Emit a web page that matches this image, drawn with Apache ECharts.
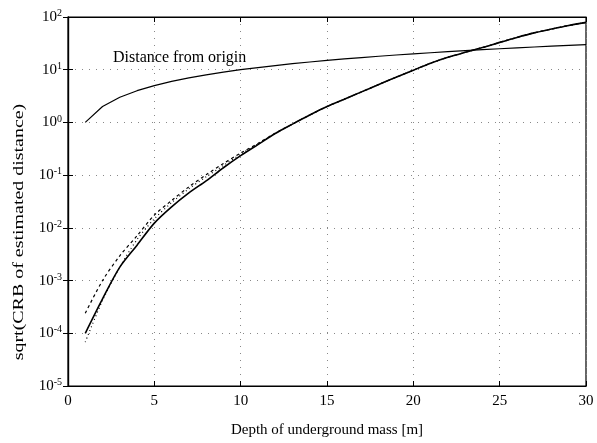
<!DOCTYPE html>
<html>
<head>
<meta charset="utf-8">
<script src="https://cdn.jsdelivr.net/npm/echarts@6/dist/echarts.min.js"></script>
<style>html,body{margin:0;padding:0;background:#fff}#c{width:597px;height:443px}</style>
</head>
<body>
<div id="c"></div>
<script>
var depth = [1,2,3,4,5,6,7,8,9,10,11,12,13,14,15,16,17,18,19,20,21,22,23,24,25,26,27,28,29,30];
var distanceFromOrigin = [1,2,3,4,5,6,7,8,9,10,11,12,13,14,15,16,17,18,19,20,21,22,23,24,25,26,27,28,29,30];
var crbSolid = [1.0e-4,4.5e-4,1.8e-3,4.7e-3,1.23e-2,2.5e-2,4.6e-2,7.8e-2,0.138,0.234,0.38,0.617,0.93,1.38,2.0,2.75,3.8,5.25,7.2,9.8,13.3,17.2,21.4,26.3,33,41,50,59,69,79];
var crbDashed = [2.4e-4,1.0e-3,2.95e-3,7.1e-3,1.74e-2,3.3e-2,6.0e-2,0.102,0.166,0.263,0.40,0.625,0.93,1.38,2.0,2.75,3.8,5.25,7.2,9.8,13.3,17.2,21.4,26.3,33,41,50,59,69,79];
var crbDotted = [6.8e-5,4.2e-4,1.8e-3,6.0e-3,1.48e-2,3.0e-2,5.5e-2,9.3e-2,0.152,0.25,0.39,0.62,0.93,1.38,2.0,2.75,3.8,5.25,7.2,9.8,13.3,17.2,21.4,26.3,33,41,50,59,69,79];
var xTicks = [0,5,10,15,20,25,30];
var yExponents = [-5,-4,-3,-2,-1,0,1,2];

function pairs(xs, ys){ return xs.map(function(x,i){ return [x, ys[i]]; }); }

var font = '"Liberation Serif","DejaVu Serif",serif';
var gridDots = {show:true, lineStyle:{color:'#888', width:1, type:[1,6]}};

var chart = echarts.init(document.getElementById('c'), null, {renderer:'canvas'});
chart.setOption({
  animation:false,
  backgroundColor:'#fff',
  grid:{left:68, right:11, top:17, bottom:52, show:true, borderColor:'#000', borderWidth:1.2},
  xAxis:[{
    type:'value', min:xTicks[0], max:xTicks[xTicks.length-1], interval:5,
    name:'Depth of underground mass [m]', nameLocation:'middle', nameGap:37,
    nameTextStyle:{fontFamily:font, fontSize:15, color:'#000'},
    axisLine:{show:true, lineStyle:{color:'#000', width:1.2}},
    axisTick:{show:true, inside:true, length:5, lineStyle:{color:'#000'}},
    axisLabel:{fontFamily:font, fontSize:15, color:'#000', margin:8},
    splitLine:gridDots
  },{
    type:'value', position:'top', min:0, max:30, interval:5,
    axisLine:{show:true, lineStyle:{color:'#000', width:1.2}},
    axisTick:{show:true, inside:true, length:5, lineStyle:{color:'#000'}},
    axisLabel:{show:false}, splitLine:{show:false}
  }],
  yAxis:[{
    type:'log', logBase:10, min:Math.pow(10,yExponents[0]), max:Math.pow(10,yExponents[yExponents.length-1]),
    axisLine:{show:true, lineStyle:{color:'#000', width:1.2}},
    axisTick:{show:true, inside:true, length:5, lineStyle:{color:'#000'}},
    axisLabel:{margin:6, formatter:function(v){
        var e = Math.round(Math.log(v)/Math.LN10);
        return '{b|10}{s|' + e + '}';
      },
      rich:{b:{fontFamily:font, fontSize:15, color:'#000'}, s:{fontFamily:font, fontSize:10, color:'#000', verticalAlign:'top', padding:[0,0,7,0]}}
    },
    splitLine:gridDots
  },{
    type:'log', logBase:10, min:1e-5, max:100, position:'right',
    axisLine:{show:true, lineStyle:{color:'#000', width:1.2}},
    axisTick:{show:true, inside:true, length:5, lineStyle:{color:'#000'}},
    axisLabel:{show:false}, splitLine:{show:false}
  }],
  graphic:[{
    type:'text', left:113, top:50,
    style:{text:'Distance from origin', fontFamily:font, fontSize:16, fill:'#000'}
  },{
    type:'text', x:19, y:232, rotation:Math.PI/2, scaleX:1.33,
    style:{text:'sqrt(CRB of estimated distance)', fontFamily:font, fontSize:15, fill:'#000', align:'center', verticalAlign:'middle'}
  }],
  series:[
    {type:'line', data:pairs(depth, distanceFromOrigin), symbol:'none', lineStyle:{color:'#000', width:1.2}},
    {type:'line', data:pairs(depth, crbDotted), symbol:'none', smooth:0.3, lineStyle:{color:'#000', width:1.2, type:[1,3]}},
    {type:'line', data:pairs(depth, crbDashed), symbol:'none', smooth:0.3, lineStyle:{color:'#000', width:1.2, type:[3,3]}},
    {type:'line', data:pairs(depth, crbSolid), symbol:'none', smooth:0.3, lineStyle:{color:'#000', width:1.6}}
  ]
});
</script>
</body>
</html>
